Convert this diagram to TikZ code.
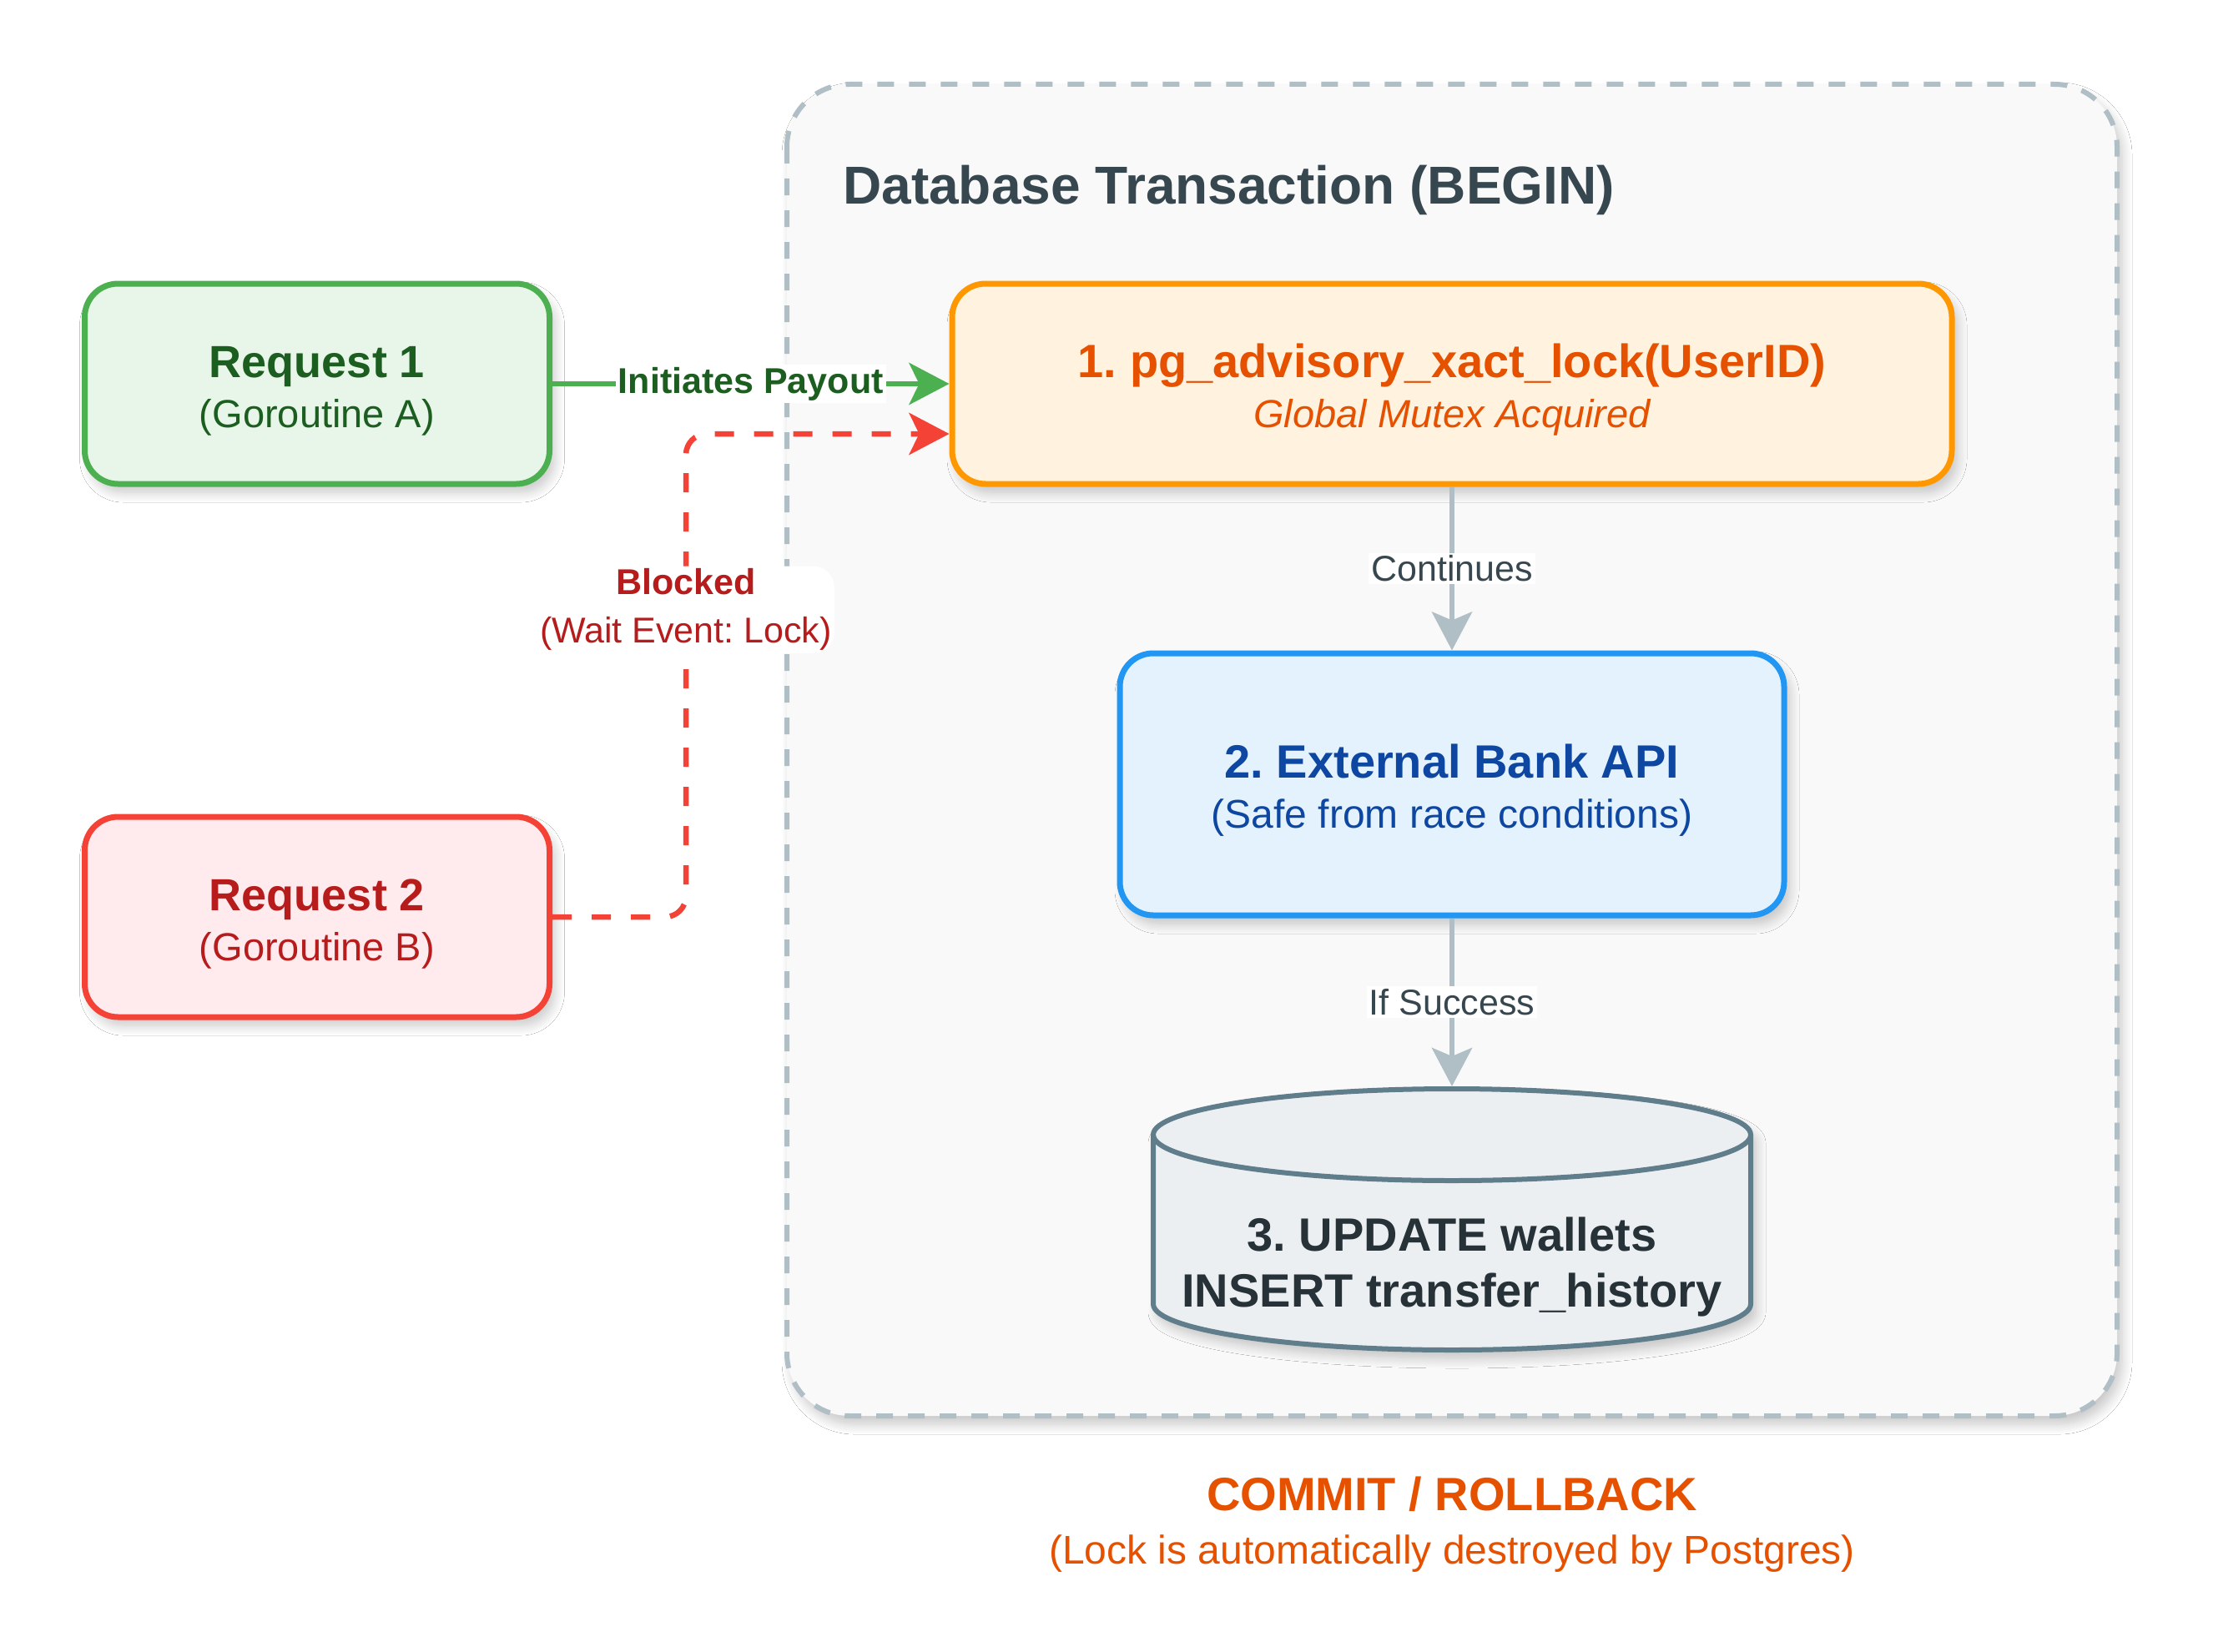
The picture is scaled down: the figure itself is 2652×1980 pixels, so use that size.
\documentclass[tikz,border=0pt]{standalone}
\usepackage{fontspec}
\setmainfont{Liberation Sans}
\usetikzlibrary{arrows.meta,shadows.blur,calc}
\frenchspacing
\definecolor{cgreen}{HTML}{4CAF50}
\definecolor{cgreenfill}{HTML}{E8F5E9}
\definecolor{cdkgreen}{HTML}{1B5E20}
\definecolor{cred}{HTML}{F44336}
\definecolor{credfill}{HTML}{FFEBEE}
\definecolor{cdkred}{HTML}{B71C1C}
\definecolor{corange}{HTML}{FF9800}
\definecolor{corangefill}{HTML}{FFF3E0}
\definecolor{cdkorange}{HTML}{E65100}
\definecolor{cblue}{HTML}{2196F3}
\definecolor{cbluefill}{HTML}{E3F2FD}
\definecolor{cdkblue}{HTML}{0D47A1}
\definecolor{cgrayline}{HTML}{B0BEC5}
\definecolor{cslate}{HTML}{37474F}
\definecolor{ccyl}{HTML}{607D8B}
\definecolor{ccylfill}{HTML}{ECEFF1}
\definecolor{ccyltext}{HTML}{263238}
\definecolor{ccont}{HTML}{F9F9F9}
\tikzset{
  softshadow/.style={blur shadow={shadow xshift=6pt, shadow yshift=-10pt, shadow blur radius=12pt, shadow blur steps=12, shadow opacity=22}},
  box/.style={rounded corners=40pt, line width=7pt, align=center, softshadow,
    font=\fontsize{47}{60}\selectfont},
  lbl/.style={fill=white, inner sep=3pt, text=cslate, font=\fontsize{43}{50}\selectfont},
  garrow/.style={draw=cgreen, line width=6.5pt, -{Stealth[length=48pt,width=50pt,inset=12pt]}},
  rarrow/.style={draw=cred, line width=6.5pt, dash pattern=on 23pt off 24pt, -{Stealth[length=48pt,width=50pt,inset=12pt]}},
  grarrow/.style={draw=cgrayline, line width=6.5pt, -{Stealth[length=46pt,width=48pt,inset=10pt]}},
  cylline/.style={draw=ccyl, line width=6pt},
}
\begin{document}
\begin{tikzpicture}[x=1pt,y=1pt]
\useasboundingbox (0,0) rectangle (2652,-1980);
\fill[white] (0,0) rectangle (2652,-1980);

% container
\path[fill=ccont, rounded corners=75pt, softshadow] (943,-101) rectangle (2537,-1697);
\draw[cgrayline, line width=6pt, dash pattern=on 20pt off 18pt, rounded corners=75pt] (943,-101) rectangle (2537,-1697);
\node[anchor=base west, inner sep=0pt, text=cslate, font=\fontsize{64}{70}\selectfont\bfseries] (title) at (1010,-244) {Database Transaction (BEGIN)};

% request boxes
\node[box, draw=cgreen, fill=cgreenfill, text=cdkgreen, minimum width=557pt, minimum height=240pt] (req1) at (380,-460)
  {\rule{0pt}{55pt}{\fontsize{54}{60}\selectfont\bfseries Request 1}\\(Goroutine A)};
\node[box, draw=cred, fill=credfill, text=cdkred, minimum width=557pt, minimum height=240pt] (req2) at (380,-1099)
  {\rule{0pt}{55pt}{\fontsize{54}{60}\selectfont\bfseries Request 2}\\(Goroutine B)};

% lock box
\node[box, draw=corange, fill=corangefill, text=cdkorange, minimum width=1198pt, minimum height=240pt] (lock) at (1740,-460)
  {\rule{0pt}{55pt}{\fontsize{56}{60}\selectfont\bfseries 1. pg\_advisory\_xact\_lock(UserID)}\\\itshape Global Mutex Acquired};

% api box
\node[box, draw=cblue, fill=cbluefill, text=cdkblue, minimum width=796pt, minimum height=314pt] (api) at (1740,-940)
  {\rule{0pt}{54pt}{\fontsize{56}{62}\selectfont\bfseries 2. External Bank API}\\{\fontsize{48}{62}\selectfont(Safe from race conditions)}};

% database cylinder
\path[fill=ccylfill, softshadow] (1382,-1360) -- (1382,-1563) arc[start angle=180,end angle=360,x radius=358,y radius=55] -- (2098,-1360) arc[start angle=0,end angle=180,x radius=358,y radius=55] -- cycle;
\draw[cylline] (1382,-1360) -- (1382,-1563) arc[start angle=180,end angle=360,x radius=358,y radius=55] -- (2098,-1360);
\draw[cylline] (1740,-1360) ellipse[x radius=358, y radius=55];
\coordinate (dbtop) at (1740,-1302);
\node[align=center, text=ccyltext, font=\fontsize{56}{67}\selectfont\bfseries] (db) at (1740,-1519)
  {3. UPDATE wallets\\INSERT transfer\_history};

% connectors
\draw[garrow] (req1.east) -- node[lbl, text=cdkgreen, font=\fontsize{43}{50}\selectfont\bfseries] (initlbl) {Initiates Payout} (lock.west);
\draw[rarrow, rounded corners=25pt] (req2.east) -- ++(160,0) |- node[pos=0.318, lbl, align=center, text=cdkred, font=\fontsize{43}{58}\selectfont] (blocklbl) {{\bfseries Blocked}\\(Wait Event: Lock)} ([yshift=-60pt]lock.west);
\draw[grarrow] (lock.south) -- node[lbl] (contlbl) {Continues} (api.north);
\draw[grarrow] (api.south) -- node[lbl] (succlbl) {If Success} (dbtop);

% commit note
\node[align=center, text=cdkorange, font=\fontsize{48}{64}\selectfont] (commit) at (1740,-1827)
  {{\fontsize{56}{64}\selectfont\bfseries COMMIT / ROLLBACK}\\(Lock is automatically destroyed by Postgres)};
\end{tikzpicture}
\end{document}
